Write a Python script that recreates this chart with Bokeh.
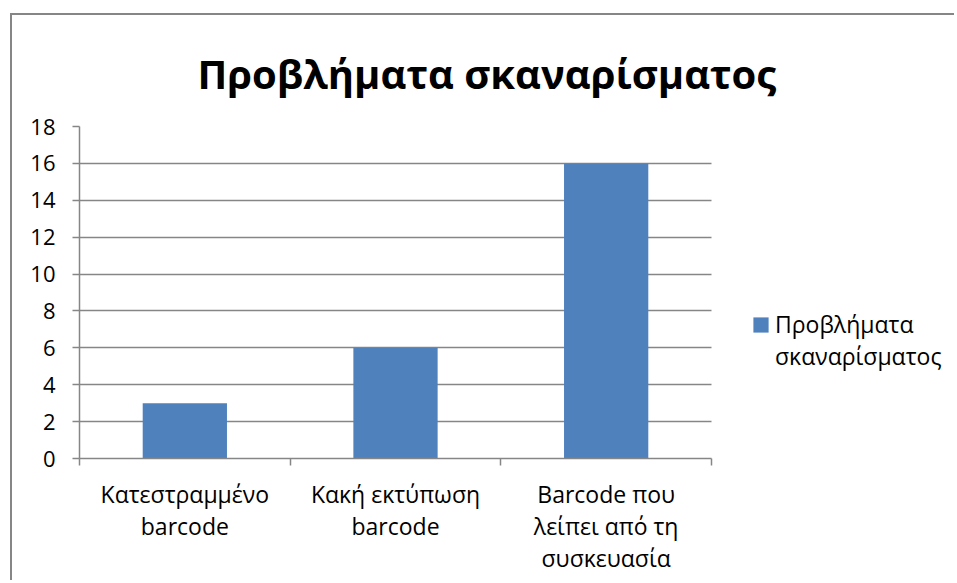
from bokeh.plotting import figure
from bokeh.models import FixedTicker, Legend, LegendItem, Range1d, ColumnDataSource, BoxAnnotation
from bokeh.embed import file_html
from bokeh.resources import INLINE

# ---- data ----
categories = ["Κατεστραμμένο\nbarcode", "Κακή εκτύπωση\nbarcode", "Barcode που\nλείπει από τη\nσυσκευασία"]
values = [3, 6, 16]
series_name = "Προβλήματα σκαναρίσματος"
legend_lines = ["Προβλήματα", "σκαναρίσματος"]
title_text = "Προβλήματα σκαναρίσματος"
y_ticks = [0, 2, 4, 6, 8, 10, 12, 14, 16, 18]

FONT = "Open Sans"
GRAY = "#868686"
BLUE = "#4F81BD"

# layout (pixels)
W, H = 944, 567
LEFT, TOP, BOTTOM = 67, 111, 124
CAT_W = 632                      # width of the category area
FRAME_W = W - LEFT               # frame runs to the right edge (legend lives inside it)
n = len(categories)
x_end = n * FRAME_W / CAT_W

centers = [i + 0.5 for i in range(n)]
bounds = [float(i) for i in range(n + 1)]
src = ColumnDataSource(dict(x=centers, top=values))

p = figure(width=W, height=H, x_range=Range1d(0, x_end), y_range=Range1d(0, 18),
           output_backend="svg", toolbar_location=None,
           min_border_left=LEFT, min_border_right=0, min_border_top=TOP, min_border_bottom=BOTTOM,
           styles={"margin-left": "10px", "margin-top": "13px",
                   "border-left": "2px solid #868686", "border-top": "2px solid #868686"})
p.outline_line_color = None
p.background_fill_color = "white"
p.border_fill_color = "white"

p.title.text = title_text
p.title.text_font = FONT
p.title.text_font_size = "40px"
p.title.text_font_style = "bold"
p.title.text_color = "black"
p.title.align = "left"
p.title.offset = 118
p.title.standoff = 52

r = p.vbar(x="x", top="top", width=0.4, bottom=0, source=src, fill_color=BLUE, line_color=None)
# invisible companion renderer used only for the second legend line
r2 = p.vbar(x=[], top=[], width=0.4, fill_alpha=0, line_alpha=0)

p.xgrid.visible = False
p.ygrid.ticker = FixedTicker(ticks=y_ticks)
p.ygrid.grid_line_color = GRAY
p.ygrid.grid_line_width = 1.5
try:
    p.ygrid.cross_bounds = (0, n)
except Exception:
    p.add_layout(BoxAnnotation(left=n, fill_color="white", fill_alpha=1, line_color=None, level="underlay"))

ya = p.yaxis[0]
ya.ticker = FixedTicker(ticks=y_ticks)
ya.axis_line_color = GRAY
ya.axis_line_width = 1.5
ya.major_tick_line_color = GRAY
ya.major_tick_line_width = 1.5
ya.major_tick_out = 7
ya.major_tick_in = 0
ya.minor_tick_line_color = None
ya.major_label_text_font = FONT
ya.major_label_text_font_size = "22px"
ya.major_label_text_color = "black"
ya.major_label_standoff = 17

xa = p.xaxis[0]
xa.bounds = (0, n)
xa.ticker = FixedTicker(ticks=centers, minor_ticks=bounds)
xa.major_label_overrides = {c: lab for c, lab in zip(centers, categories)}
xa.axis_line_color = GRAY
xa.axis_line_width = 1.5
xa.major_tick_line_color = None
xa.major_tick_out = 0
xa.major_tick_in = 0
xa.minor_tick_line_color = GRAY
xa.minor_tick_line_width = 1.5
xa.minor_tick_out = 7
xa.minor_tick_in = 0
xa.major_label_text_font = FONT
xa.major_label_text_font_size = "23px"
xa.major_label_text_color = "black"
xa.major_label_text_line_height = 1.0
xa.major_label_standoff = 12

legend = Legend(items=[LegendItem(label=legend_lines[0], renderers=[r]),
                       LegendItem(label=legend_lines[1], renderers=[r2])],
                location=(672, 86), padding=0, margin=0, spacing=0, border_line_color=None,
                background_fill_alpha=0, glyph_width=19, glyph_height=19, label_standoff=5,
                label_text_font=FONT, label_text_font_size="23px", label_text_color="black")
p.add_layout(legend, "center")

open("out.html", "w").write(file_html(p, INLINE))
